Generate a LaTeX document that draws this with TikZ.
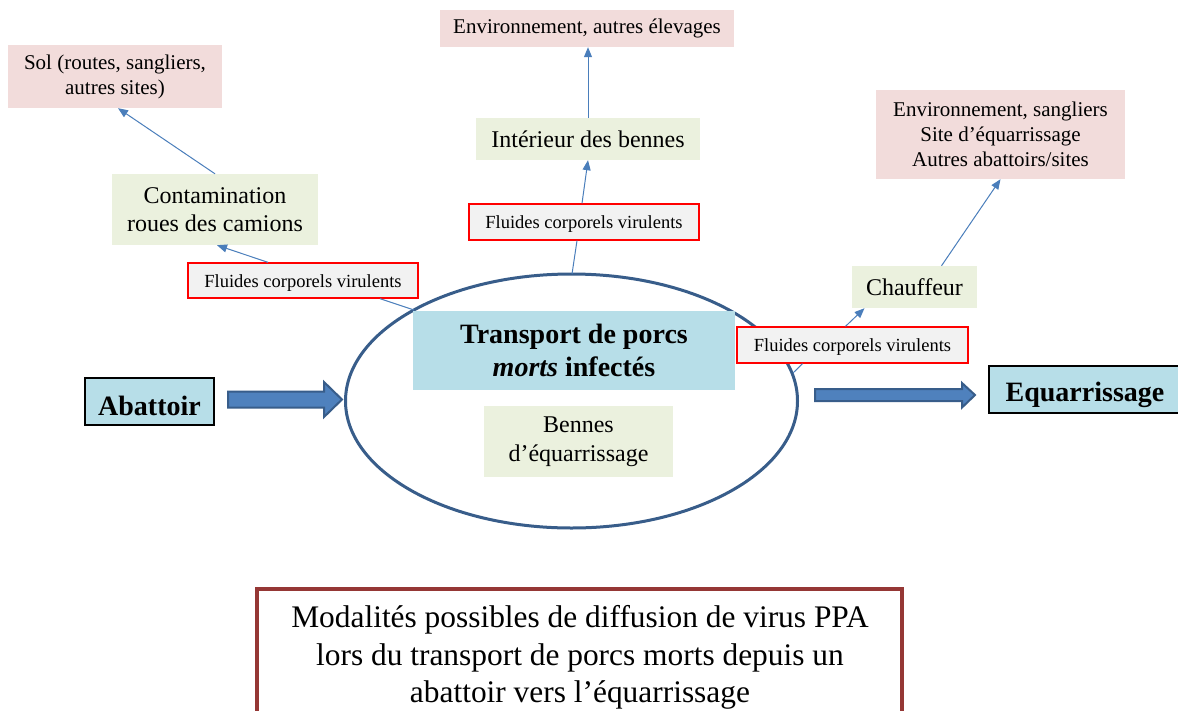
\documentclass[tikz,border=0pt]{standalone}
\usepackage{fontspec}
\setmainfont{Liberation Serif}
\usetikzlibrary{arrows.meta,shapes.geometric,calc}
\definecolor{pinkf}{HTML}{F2DCDB}
\definecolor{greenf}{HTML}{EBF1DE}
\definecolor{bluef}{HTML}{B7DEE8}
\definecolor{greyf}{HTML}{F2F2F2}
\definecolor{connc}{HTML}{4A7EBB}
\definecolor{ellc}{HTML}{385D8A}
\definecolor{arrf}{HTML}{4F81BD}
\definecolor{bordred}{HTML}{953735}
\tikzset{
  box/.style={inner sep=0pt, align=center, text=black},
  pinkbox/.style={box, fill=pinkf, font=\fontsize{21}{25}\selectfont},
  greenbox/.style={box, fill=greenf, font=\fontsize{24}{28.5}\selectfont},
  fluid/.style={box, fill=greyf, draw=red, line width=1.3pt, font=\fontsize{18.5}{22}\selectfont, text height=17pt, text depth=4pt},
  keybox/.style={box, fill=bluef, draw=black, line width=2.5pt, font=\fontsize{28}{33}\selectfont\bfseries},
  conn/.style={draw=connc, line width=1pt},
  connarrow/.style={conn, -{Triangle[length=10pt,width=8pt]}},
  bigarrow/.style={fill=arrf, draw=ellc, line width=2pt, line join=miter},
}
\begin{document}
\begin{tikzpicture}[x=1pt,y=-1pt]
\useasboundingbox (0,0) rectangle (1178,710);
\fill[white] (0,0) rectangle (1178,710);

% central ellipse
\node[draw=ellc, line width=3pt, ellipse, minimum width=452pt, minimum height=254pt, inner sep=0pt] (ell) at (571.5,401) {};
\coordinate (eL) at (414,310);
\coordinate (eT) at (572,274);
\coordinate (eR) at (793,373);

% boxes
\node[pinkbox, minimum width=214pt, minimum height=63pt] (sol) at (115,76.5) {Sol (routes, sangliers,\\autres sites)};
\node[greenbox, minimum width=206pt, minimum height=71pt] (cont) at (215,209.5) {Contamination\\roues des camions};
\node[fluid, minimum width=230pt, minimum height=35pt] (flL) at (303,280.5) {Fluides corporels virulents};

\node[pinkbox, minimum width=294pt, minimum height=37pt] (env1) at (587,28.5) {Environnement, autres élevages};
\node[greenbox, minimum width=224pt, minimum height=42pt] (inter) at (588,139) {Intérieur des bennes};
\node[fluid, minimum width=230pt, minimum height=36pt] (flM) at (584,222) {Fluides corporels virulents};

\node[pinkbox, minimum width=249pt, minimum height=89pt] (env2) at (1000.5,134.5) {Environnement, sangliers\\Site d’équarrissage\\Autres abattoirs/sites};
\node[greenbox, minimum width=125pt, minimum height=42pt] (chauf) at (914.5,287) {Chauffeur};
\node[fluid, minimum width=231pt, minimum height=36pt] (flR) at (852.5,345) {Fluides corporels virulents};

\node[box, fill=bluef, minimum width=322pt, minimum height=79pt, font=\fontsize{28}{33}\selectfont\bfseries] (trans) at (574,350.5) {Transport de porcs\\\textit{morts} infectés};
\node[greenbox, minimum width=189pt, minimum height=71pt] (bennes) at (578.5,441.5) {Bennes\\d’équarrissage};

\node[keybox, minimum width=129pt, minimum height=47pt, text height=27pt, text depth=0pt] (abat) at (149.5,401.5) {Abattoir};
\node[keybox, minimum width=192pt, minimum height=47pt, text width=188pt, text height=29pt, text depth=6pt] (equ) at (1085,389.5) {Equarrissage};

% connectors
\draw[conn] ([xshift=77pt]flL.south) -- (eL);
\draw[connarrow] ([xshift=-35pt]flL.north) -- ([xshift=2pt]cont.south);
\draw[connarrow] (cont.north) -- ([xshift=3pt]sol.south);

\draw[conn] (eT) -- ([xshift=-7pt]flM.south);
\draw[connarrow] ([xshift=-2pt]flM.north) -- (inter.south);
\draw[connarrow] (inter.north) -- ([xshift=1pt]env1.south);

\draw[conn] (eR) -- ([xshift=-50pt]flR.south);
\draw[connarrow] ([xshift=-7pt]flR.north) -- ([xshift=-50pt]chauf.south);
\draw[connarrow] ([xshift=27pt]chauf.north) -- ([xshift=0pt]env2.south);

% big arrows
\coordinate (a1s) at (228,399.5);
\coordinate (a1t) at (342,399.5);
\draw[bigarrow] (a1s) ++(0,-8) -- ++(96,0) -- ++(0,-9.5) -- (a1t) -- ++(-18,17.5) -- ++(0,-9.5) -- ++(-96,0) -- cycle;
\coordinate (a2s) at (815,395);
\coordinate (a2t) at (975,395);
\draw[bigarrow] (a2s) ++(0,-6) -- ++(147,0) -- ++(0,-6) -- (a2t) -- ++(-13,12.5) -- ++(0,-6.5) -- ++(-147,0) -- cycle;

% caption box
\draw[draw=bordred, line width=4pt, fill=white] (257,725) -- (257,589) -- (902,589) -- (902,725);
\node[box, font=\fontsize{31.4}{37.5}\selectfont] (cap) at (580,657.5) {Modalités possibles de diffusion de virus PPA\\lors du transport de porcs morts depuis un\\abattoir vers l’équarrissage};
\end{tikzpicture}
\end{document}
